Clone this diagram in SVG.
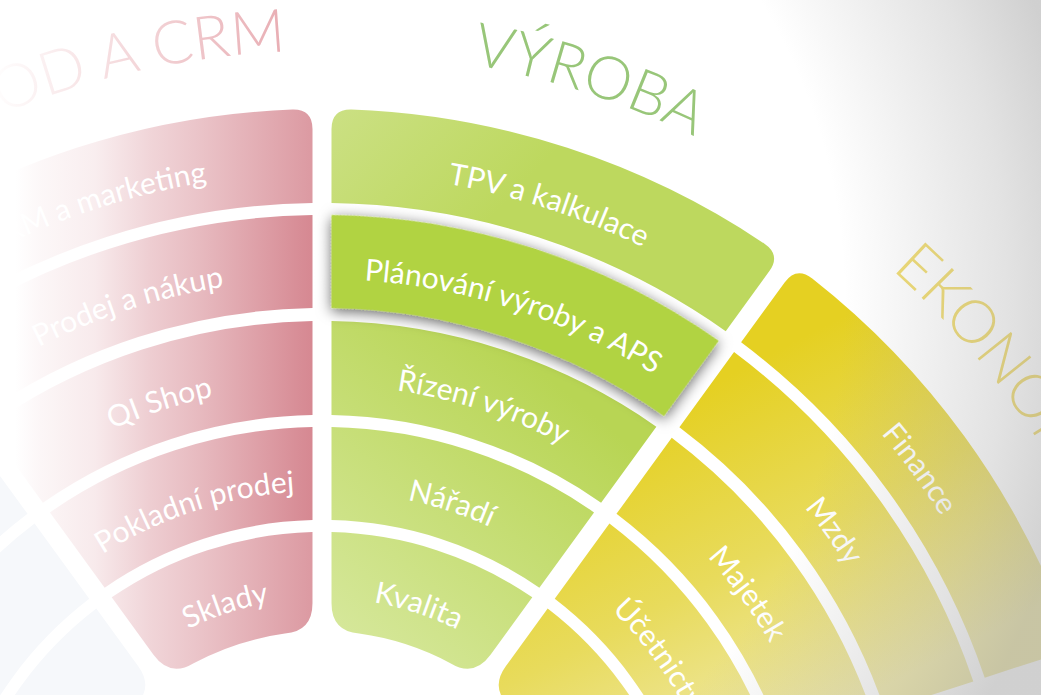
<svg xmlns="http://www.w3.org/2000/svg" width="1041" height="695" viewBox="0 0 1041 695">
<defs>
<style>
.lbl{font-family:Lato,"Noto Sans","Liberation Sans",sans-serif;font-size:30px;fill:#fff;text-anchor:middle}
.ttl{font-family:Lato,"Noto Sans","Liberation Sans",sans-serif;font-weight:300;font-size:60px;text-anchor:middle}
</style>
<path id="r0" d="M -230.13 -739.00 Q -236.31 -758.02 -217.13 -763.73 A 794 794 0 0 1 217.13 -763.73 Q 236.31 -758.02 230.13 -739.00 L 207.26 -668.61 A 700 700 0 0 0 -207.26 -668.61 Z"/>
<path id="r1" d="M -203.55 -657.20 A 688 688 0 0 1 203.55 -657.20 L 174.81 -568.74 A 595 595 0 0 0 -174.81 -568.74 Z"/>
<path id="r2" d="M -170.79 -556.38 A 582 582 0 0 1 170.79 -556.38 L 141.74 -466.96 A 488 488 0 0 0 -141.74 -466.96 Z"/>
<path id="r3" d="M -138.03 -455.55 A 476 476 0 0 1 138.03 -455.55 L 109.28 -367.08 A 383 383 0 0 0 -109.28 -367.08 Z"/>
<path id="r4" d="M -105.57 -355.66 A 371 371 0 0 1 105.57 -355.66 L 83.6 -288.1 Q 74.97 -261.47 48.0 -267.7 A 272 272 0 0 0 -48.0 -267.7 Q -74.97 -261.47 -83.6 -288.1 Z"/>
<path id="a0" d="M -365 -632.2 A 730 730 0 0 1 365 -632.2"/>
<path id="a1" d="M -312 -540.4 A 624 624 0 0 1 312 -540.4"/>
<path id="a2" d="M -259 -448.6 A 518 518 0 0 1 259 -448.6"/>
<path id="a3" d="M -206 -356.8 A 412 412 0 0 1 206 -356.8"/>
<path id="a4" d="M -152.5 -264.1 A 305 305 0 0 1 152.5 -264.1"/>
<path id="at" d="M -426 -737.9 A 852 852 0 0 1 426 -737.9"/>
<linearGradient id="gRed" gradientUnits="userSpaceOnUse" x1="0" y1="0" x2="313" y2="0" gradientTransform="rotate(18) translate(-322 -903)">
<stop offset="0.048" stop-color="#d4838d" stop-opacity="0"/>
<stop offset="0.128" stop-color="#d4838d" stop-opacity="0.07"/>
<stop offset="0.304" stop-color="#d4838d" stop-opacity="0.17"/>
<stop offset="0.479" stop-color="#d4838d" stop-opacity="0.4"/>
<stop offset="0.639" stop-color="#d4838d" stop-opacity="0.56"/>
<stop offset="0.799" stop-color="#d4838d" stop-opacity="0.74"/>
<stop offset="0.958" stop-color="#d4838d" stop-opacity="0.92"/>
<stop offset="1" stop-color="#d4838d" stop-opacity="0.96"/>
</linearGradient>
<linearGradient id="gRedE" gradientUnits="userSpaceOnUse" x1="0" y1="0" x2="313" y2="0" gradientTransform="rotate(18) translate(-322 -903)">
<stop offset="0.048" stop-color="#d4838d" stop-opacity="0"/>
<stop offset="0.128" stop-color="#d4838d" stop-opacity="0.06"/>
<stop offset="0.304" stop-color="#d4838d" stop-opacity="0.14"/>
<stop offset="0.479" stop-color="#d4838d" stop-opacity="0.34"/>
<stop offset="0.639" stop-color="#d4838d" stop-opacity="0.48"/>
<stop offset="0.799" stop-color="#d4838d" stop-opacity="0.63"/>
<stop offset="0.958" stop-color="#d4838d" stop-opacity="0.78"/>
<stop offset="1" stop-color="#d4838d" stop-opacity="0.82"/>
</linearGradient>
<linearGradient id="gRedTitle" gradientUnits="userSpaceOnUse" x1="-10" y1="0" x2="290" y2="0" gradientTransform="rotate(18) translate(-322 -903)">
<stop offset="0" stop-color="#e8acb2" stop-opacity="0"/>
<stop offset="1" stop-color="#e8acb2" stop-opacity="1"/>
</linearGradient>
<linearGradient id="gGreen" gradientUnits="userSpaceOnUse" x1="332" y1="620" x2="540" y2="370" gradientTransform="rotate(-18) translate(-322 -903)">
<stop offset="0" stop-color="#d5e799"/>
<stop offset="1" stop-color="#b8d554"/>
</linearGradient>
<linearGradient id="gGreen0" gradientUnits="userSpaceOnUse" x1="335" y1="110" x2="470" y2="240" gradientTransform="rotate(-18) translate(-322 -903)">
<stop offset="0" stop-color="#cbe083"/>
<stop offset="1" stop-color="#bdd85e"/>
</linearGradient>
<linearGradient id="gYellow" gradientUnits="userSpaceOnUse" x1="700" y1="390" x2="860" y2="700" gradientTransform="rotate(-54) translate(-322 -903)">
<stop offset="0" stop-color="#e5d022"/>
<stop offset="0.5" stop-color="#e8db5c"/>
<stop offset="1" stop-color="#f0eaad"/>
</linearGradient>
<radialGradient id="gVig" gradientUnits="userSpaceOnUse" cx="270" cy="300" r="820">
<stop offset="0.7" stop-color="#999" stop-opacity="0"/>
<stop offset="0.9" stop-color="#999" stop-opacity="0.28"/>
<stop offset="1" stop-color="#999" stop-opacity="0.46"/>
</radialGradient>
<filter id="sh" x="-20%" y="-60%" width="140%" height="220%">
<feDropShadow dx="1" dy="3" stdDeviation="7" flood-color="#000" flood-opacity="0.6"/>
</filter>
</defs>
<rect width="1041" height="695" fill="#fff"/>

<g id="sector-faint" transform="translate(322 903) rotate(-54)" fill="#f6f8fb">
<use href="#r0"/><use href="#r1"/><use href="#r2"/><use href="#r3"/><use href="#r4"/>
</g>

<g id="sector-obchod" transform="translate(322 903) rotate(-18)">
<g id="node-crm-marketing"><use href="#r0" fill="url(#gRedE)"/><text class="lbl"><textPath href="#a0" startOffset="50%">CRM a marketing</textPath></text></g>
<g id="node-prodej-nakup"><use href="#r1" fill="url(#gRed)"/><text class="lbl"><textPath href="#a1" startOffset="50%">Prodej a nákup</textPath></text></g>
<g id="node-qi-shop"><use href="#r2" fill="url(#gRed)"/><text class="lbl"><textPath href="#a2" startOffset="50%">QI Shop</textPath></text></g>
<g id="node-pokladni-prodej"><use href="#r3" fill="url(#gRed)"/><text class="lbl"><textPath href="#a3" startOffset="50%">Pokladní prodej</textPath></text></g>
<g id="node-sklady"><use href="#r4" fill="url(#gRedE)"/><text class="lbl"><textPath href="#a4" startOffset="50%">Sklady</textPath></text></g>
<text id="title-obchod" class="ttl" fill="url(#gRedTitle)"><textPath href="#at" startOffset="50%">OBCHOD A CRM</textPath></text>
</g>

<g id="sector-vyroba" transform="translate(322 903) rotate(18)">
<g id="node-tpv"><use href="#r0" fill="url(#gGreen0)"/><text class="lbl"><textPath href="#a0" startOffset="50%">TPV a kalkulace</textPath></text></g>
<g id="node-rizeni"><use href="#r2" fill="url(#gGreen)"/><text class="lbl"><textPath href="#a2" startOffset="50%">Řízení výroby</textPath></text></g>
<g id="node-naradi"><use href="#r3" fill="url(#gGreen)"/><text class="lbl"><textPath href="#a3" startOffset="50%">Nářadí</textPath></text></g>
<g id="node-kvalita"><use href="#r4" fill="url(#gGreen)"/><text class="lbl"><textPath href="#a4" startOffset="50%">Kvalita</textPath></text></g>
<g id="node-planovani"><use href="#r1" fill="#b1d342" filter="url(#sh)"/><text class="lbl"><textPath href="#a1" startOffset="50%">Plánování výroby a APS</textPath></text></g>
<text id="title-vyroba" class="ttl" fill="#98c679"><textPath href="#at" startOffset="50%">VÝROBA</textPath></text>
</g>

<g id="sector-ekonomika" transform="translate(322 903) rotate(54)">
<g id="node-finance"><use href="#r0" fill="url(#gYellow)"/><text class="lbl"><textPath href="#a0" startOffset="50%">Finance</textPath></text></g>
<g id="node-mzdy"><use href="#r1" fill="url(#gYellow)"/><text class="lbl"><textPath href="#a1" startOffset="50%">Mzdy</textPath></text></g>
<g id="node-majetek"><use href="#r2" fill="url(#gYellow)"/><text class="lbl"><textPath href="#a2" startOffset="50%">Majetek</textPath></text></g>
<g id="node-ucetnictvi"><use href="#r3" fill="url(#gYellow)"/><text class="lbl"><textPath href="#a3" startOffset="50%">Účetnictví</textPath></text></g>
<g id="node-ekonomika-5"><use href="#r4" fill="url(#gYellow)"/></g>
<text id="title-ekonomika" class="ttl" fill="#f0dc72"><textPath href="#at" startOffset="50%">EKONOMIKA</textPath></text>
</g>

<g id="connectors"/>
<rect id="vignette" width="1041" height="695" fill="url(#gVig)"/>
</svg>
